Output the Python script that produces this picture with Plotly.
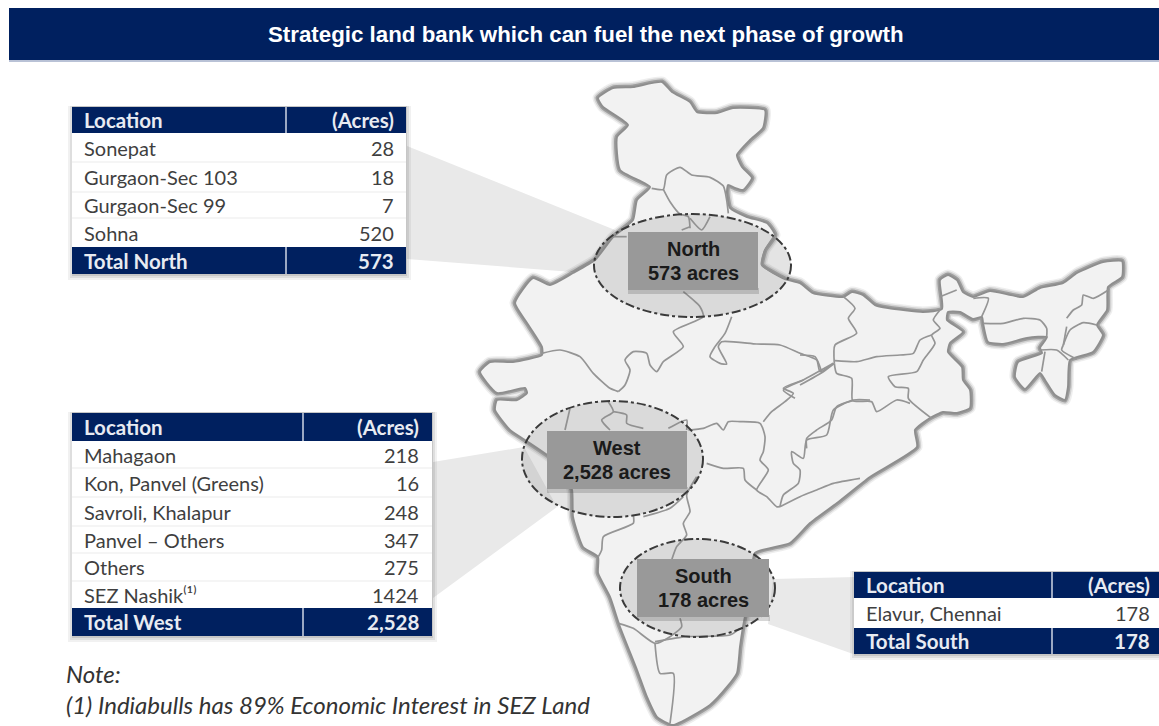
import plotly.graph_objects as go

TITLE = "Strategic land bank which can fuel the next phase of growth"

north_locations = ["Sonepat", "Gurgaon-Sec 103", "Gurgaon-Sec 99", "Sohna", "Total North"]
north_acres = ["28", "18", "7", "520", "573"]
west_locations = ["Mahagaon", "Kon, Panvel (Greens)", "Savroli, Khalapur", "Panvel – Others", "Others",
                  "SEZ Nashik⁽¹⁾", "Total West"]
west_acres = ["218", "16", "248", "347", "275", "1424", "2,528"]
south_locations = ["Elavur, Chennai", "Total South"]
south_acres = ["178", "178"]
region_names = ["North", "West", "South"]
region_totals = ["573 acres", "2,528 acres", "178 acres"]
note_lines = ["Note:", "(1) Indiabulls has 89% Economic Interest in SEZ Land"]

# India outline, in picture pixels
india_outline = [
    (598, 98), (613, 88), (633, 87), (662, 82), (672, 92), (690, 102), (697, 112), (717, 113), (733, 108), (765, 110),
    (763, 128), (750, 140), (737, 155), (742, 167), (752, 178), (743, 190), (735, 188), (728, 185), (727, 193),
    (730, 208), (747, 217), (767, 223), (775, 235), (765, 250), (762, 265), (785, 279), (800, 283), (813, 293),
    (843, 297), (852, 292), (863, 295), (875, 305), (888, 308), (923, 312), (942, 309), (940, 280), (948, 275),
    (957, 280), (963, 292), (973, 297), (990, 291), (1023, 297), (1040, 288), (1063, 283), (1077, 273), (1103, 262),
    (1122, 261), (1122, 277), (1108, 287), (1107, 310), (1097, 325), (1103, 335), (1093, 352), (1070, 360), (1068, 387),
    (1065, 400), (1055, 395), (1045, 380), (1040, 373), (1025, 389), (1015, 377), (1018, 362), (1042, 353), (1040, 348),
    (1047, 337), (1027, 338), (1003, 344), (988, 342), (983, 323), (982, 317), (973, 319), (960, 312), (948, 312),
    (947, 320), (963, 332), (950, 343), (948, 352), (962, 367), (963, 380), (970, 390), (970, 408), (957, 413),
    (943, 412), (930, 418), (915, 430), (917, 447), (870, 477), (837, 503), (810, 523), (790, 543), (755, 553),
    (750, 590), (743, 627), (740, 647), (737, 673), (727, 687), (710, 705), (673, 725), (657, 717), (647, 697),
    (637, 670), (620, 627), (610, 597), (598, 573), (598, 557), (583, 547), (573, 517), (572, 490), (560, 465),
    (525, 440), (510, 430), (495, 410), (497, 400), (517, 400), (527, 393), (525, 388), (497, 393), (480, 372),
    (490, 362), (513, 362), (542, 355), (542, 347), (527, 323), (515, 303), (533, 278), (550, 285), (573, 273),
    (595, 260), (613, 237), (633, 220), (637, 200), (650, 187), (620, 170), (617, 137), (628, 125), (603, 107), (598, 98),
]

# State borders, in coordinates of three 3x crops of the picture
crop_north = [
    [(545,385),(580,388),(590,345),(630,322),(665,345),(720,352),(760,378),(770,420),(775,460)],
    [(580,388),(600,425),(630,462),(655,470),(660,505)],
    [(660,475),(695,510),(720,470)],
    [(635,510),(660,500)],
    [(470,530),(430,530)],
    [(915,525),(885,570),(875,615),(945,655)],
    [(640,695),(690,740),(700,770),(610,815),(640,860),(580,905),(560,935),(540,915),(530,880),(490,875),(465,900),(480,930),(465,975),(445,995)],
    [(215,880),(270,870),(330,890),(370,940),(420,985),(445,995)],
    [(785,770),(765,820),(735,860),(720,890),(750,910),(770,912),(745,860),(755,845),(860,852),(930,855),(990,880),(1040,900),(1050,935),(1090,910)],
    [(1090,910),(1000,960),(940,990),(975,1015)],
]
crop_east = [
    [(130,200),(165,235),(145,265),(170,310),(105,345),(103,400)],
    [(105,392),(170,395),(230,380),(300,375),(340,370),(360,330),(395,315)],
    [(420,240),(400,270),(420,295),(395,315),(405,340),(370,390),(350,425),(265,440),(285,470),(325,475),(325,505),(395,565)],
    [(103,400),(110,430),(155,445),(158,512),(215,515),(230,545),(290,510),(330,520)],
    [(158,512),(110,530),(95,570),(50,600),(20,625),(20,655)],
    [(103,400),(70,425),(0,465)],
    [(0,375),(45,380),(65,425)],
    [(420,200),(470,180)],
    [(520,205),(565,205),(545,260)],
    [(800,265),(820,240),(845,225),(850,195),(880,205),(925,180)],
    [(790,345),(810,300),(850,278),(890,285)],
    [(790,345),(785,360),(830,388)],
    [(550,280),(610,280),(670,265),(720,270),(740,295),(740,320)],
    [(720,360),(770,360),(805,390)],
    [(735,365),(725,425)],
    [(800,290),(790,345)],
]
crop_south = [
    [(300,85),(285,150)],
    [(415,65),(430,95),(395,120),(420,150)],
    [(430,95),(470,105),(470,130),(520,145)],
    [(595,145),(650,120),(650,150)],
    [(655,150),(700,145),(740,130),(760,150),(775,125),(810,125),(870,130),(885,170),(880,215),(870,240),(895,270),(860,330),(890,350),(920,380),(930,380)],
    [(880,125),(905,95),(945,65),(970,40),(940,25),(1000,0)],
    [(1200,60),(1150,60),(1090,90),(1070,165),(1010,180),(1000,235),(965,215),(970,250),(990,270),(985,310),(940,345),(930,380)],
    [(930,380),(990,350),(1040,330),(1090,310),(1170,295)],
    [(710,250),(760,265),(820,265),(825,300),(860,330)],
    [(680,290),(650,345),(660,395),(640,430),(650,465),(620,500),(605,540)],
    [(490,405),(490,430),(400,470),(395,510),(385,530)],
    [(520,410),(600,385),(640,350)],
    [(630,715),(635,740),(600,770),(555,790),(490,745),(445,730)],
    [(555,790),(570,880),(610,880),(600,1030)],
    [(810,745),(780,765),(650,770),(555,785)],
]

# Callout wedges joining tables to ellipses, in picture pixels
callouts = [
    [(407, 146), (615, 230), (585, 273), (407, 259)],
    [(433, 462), (524, 447), (557, 507), (433, 598)],
    [(773, 579), (856, 577), (856, 655), (768, 624)],
]

NAVY = "#00205f"
SANS = "Lato"
ARIAL = "Liberation Sans"


def from_crop(lines, x0, y0):
    return [[(x0 + a / 3, y0 + b / 3) for a, b in line] for line in lines]


def xy(points):
    return [p[0] for p in points], [p[1] for p in points]


fig = go.Figure()

for poly in callouts:
    x, y = xy(poly + poly[:1])
    fig.add_trace(go.Scatter(x=x, y=y, mode="lines", fill="toself", fillcolor="#e9e9e9",
                             line=dict(width=0, color="#e9e9e9"), hoverinfo="skip", showlegend=False))

ox, oy = xy(india_outline)
for w, c in [(11, "rgba(90,90,90,0.10)"), (8, "rgba(80,80,80,0.18)"), (5, "rgba(60,60,60,0.34)")]:
    fig.add_trace(go.Scatter(x=ox, y=oy, mode="lines", line=dict(width=w, color=c, shape="spline", smoothing=0.5),
                             hoverinfo="skip", showlegend=False))
fig.add_trace(go.Scatter(x=ox, y=oy, mode="lines", fill="toself", fillcolor="#f2f2f2",
                         line=dict(width=2, color="#8e8e8e", shape="spline", smoothing=0.5),
                         hoverinfo="skip", showlegend=False))

borders = from_crop(crop_north, 470, 60) + from_crop(crop_east, 800, 230) + from_crop(crop_south, 470, 380)
for line in borders:
    x, y = xy(line)
    fig.add_trace(go.Scatter(x=x, y=y, mode="lines", line=dict(width=1.7, color="#959595", shape="spline", smoothing=0.6),
                             hoverinfo="skip", showlegend=False))

shapes = []
annos = []


def rect(x0, y0, x1, y1, fill, layer="above", line=None):
    shapes.append(dict(type="rect", xref="x", yref="y", x0=x0, y0=y0, x1=x1, y1=y1, fillcolor=fill, layer=layer,
                       line=dict(width=line[0], color=line[1]) if line else dict(width=0)))


def text(x, y, s, size, color, font=SANS, anchor="left", bold=False, italic=False):
    if bold:
        s = "<b>" + s + "</b>"
    if italic:
        s = "<i>" + s + "</i>"
    annos.append(dict(x=x, y=y, xref="x", yref="y", text=s, showarrow=False, xanchor=anchor, yanchor="middle",
                      font=dict(family=font, size=size, color=color), align="center"))


# Title bar
rect(9, 8, 1159, 60, NAVY)
rect(9, 60, 1159, 62, "#b9c2d6")
text(586, 34, TITLE, 22.3, "white", ARIAL, "center", bold=True)

# Ellipses and region boxes
ellipses = [(594, 214, 791, 317), (522, 401, 703, 517), (620, 539, 775, 637)]
boxes = [(628, 232, 758, 290), (547, 431, 687, 489), (637, 559, 769, 617)]
for e in ellipses:
    shapes.append(dict(type="circle", xref="x", yref="y", x0=e[0], y0=e[1], x1=e[2], y1=e[3],
                       fillcolor="rgba(130,130,130,0.22)", line=dict(width=2, color="#3a3a3a", dash="dashdot")))
for b, name, total in zip(boxes, region_names, region_totals):
    rect(b[0], b[3] - 2, b[2] + 1, b[3] + 4, "rgba(70,70,70,0.22)")
    rect(b[0], b[1], b[2], b[3], "#999999")
    mid = (b[0] + b[2]) / 2
    text(mid, b[1] + 17, name, 20, "#1a1a1a", ARIAL, "center", bold=True)
    text(mid, b[1] + 41, total, 20, "#1a1a1a", ARIAL, "center", bold=True)


def table(x0, x1, xdiv, edges, locations, acres, right_pad=10):
    top, bottom = edges[0], edges[-1]
    for k, a in [(6, 0.07), (4, 0.10), (2, 0.14)]:
        rect(x0 - k + 2, top - 1, x1 + k - 1, bottom + k, f"rgba(60,60,60,{a})")
    rect(x0, top, x1, bottom, "white")
    rect(x0, edges[0], x1, edges[1], NAVY)
    rect(x0, edges[-2], x1, edges[-1], NAVY)
    for e in edges[2:-2]:
        rect(x0, e - 0.5, x1, e + 0.5, "#ececec")
    rect(xdiv - 0.75, edges[0], xdiv + 0.75, edges[1], "#cfd6e4")
    rect(xdiv - 0.75, edges[-2], xdiv + 0.75, edges[-1], "#cfd6e4")
    tx = x0 + 10
    nx = x1 - right_pad
    text(tx, (edges[0] + edges[1]) / 2, "Location", 20.5, "#e8ebf2", bold=True)
    text(nx, (edges[0] + edges[1]) / 2, "(Acres)", 20.5, "#e8ebf2", anchor="right", bold=True)
    for i, (loc, ac) in enumerate(zip(locations, acres)):
        last = i == len(locations) - 1
        col = "#e8ebf2" if last else "#3f3f3f"
        ym = (edges[i + 1] + edges[i + 2]) / 2
        text(tx, ym, loc, 20.5 if last else 20, col, bold=last)
        text(nx, ym, ac, 20.5 if last else 20, col, anchor="right", bold=last)


table(72, 406, 286, [107, 133, 162, 192, 218, 247, 274], north_locations, north_acres)
table(72, 432, 303, [413, 441, 468, 497, 526, 553, 581, 608, 636], west_locations, west_acres, right_pad=11)
table(854, 1162, 1052, [572, 598, 628, 654], south_locations, south_acres)

text(64, 673, note_lines[0], 24, "#333333", italic=True)
text(64, 704, note_lines[1], 24, "#333333", italic=True)

fig.update_layout(
    width=1159, height=726, margin=dict(l=0, r=0, t=0, b=0), autosize=False,
    paper_bgcolor="white", plot_bgcolor="white", showlegend=False,
    xaxis=dict(range=[0, 1159], visible=False, fixedrange=True),
    yaxis=dict(range=[726, 0], visible=False, fixedrange=True),
    shapes=shapes, annotations=annos,
)
fig.write_html("out.html", post_script="document.body.style.margin='0';document.documentElement.style.overflow='hidden';",
               config={"displayModeBar": False})
